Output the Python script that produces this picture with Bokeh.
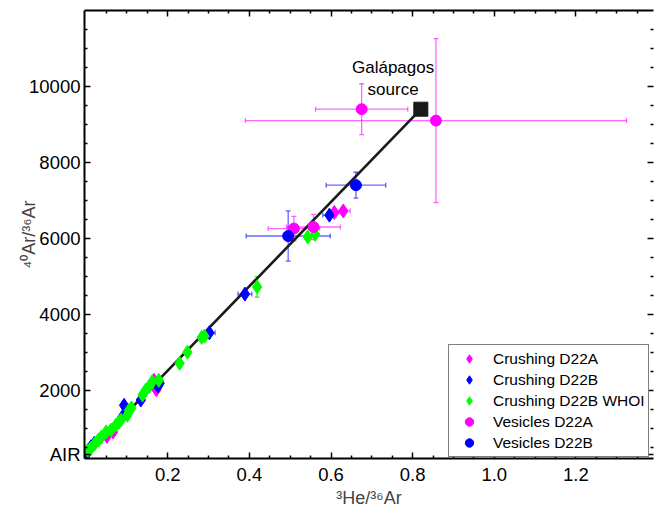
from bokeh.plotting import figure
from bokeh.models import (ColumnDataSource, Range1d, FixedTicker, LinearAxis, Whisker,
                          TeeHead, Legend, LegendItem, Label, CustomLabelingPolicy,
                          PrintfTickFormatter)
from bokeh.embed import file_html
from bokeh.resources import INLINE

# ---------------- data ----------------
air_x, air_y = 0.0, 295.5          # AIR end-member
gal_x, gal_y = 0.82, 9400.0        # Galápagos source end-member

# Crushing D22A (magenta diamonds)
cra_x = [0.051, 0.066, 0.166, 0.172, 0.608, 0.630]
cra_y = [780, 900, 2260, 2010, 6680, 6720]
cra_xerr = [0.003, 0.003, 0.004, 0.004, 0.012, 0.017]

# Crushing D22B (blue diamonds)
crb_x = [0.0, 0.012, 0.020, 0.089, 0.093, 0.134, 0.176, 0.180, 0.302, 0.389, 0.596]
crb_y = [300, 510, 600, 1300, 1600, 1740, 2110, 2180, 3510, 4530, 6610]
crb_xerr = [0.002, 0.002, 0.002, 0.004, 0.004, 0.005, 0.006, 0.006, 0.014, 0.017, 0.016]

# Crushing D22B WHOI (green diamonds)
who_x = [0.004, 0.012, 0.022, 0.030, 0.037, 0.049, 0.061, 0.073, 0.080, 0.085, 0.101,
         0.105, 0.111, 0.138, 0.146, 0.155, 0.162, 0.178, 0.229, 0.248, 0.283, 0.290,
         0.419, 0.543, 0.561]
who_y = [420, 470, 600, 690, 760, 900, 950, 1080, 1150, 1210, 1340,
         1470, 1530, 1870, 2000, 2100, 2220, 2260, 2710, 3000, 3390, 3420,
         4720, 6035, 6106]
who_yerr = [20, 20, 20, 20, 20, 20, 20, 25, 25, 25, 30,
            30, 30, 35, 35, 35, 35, 40, 45, 50, 55, 55,
            270, 80, 80]

# Vesicles D22A (magenta circles)
vea_x = [0.509, 0.557, 0.675, 0.857]
vea_y = [6256, 6298, 9400, 9100]
vea_xerr = [0.063, 0.066, 0.113, 0.467]
vea_yerr = [320, 330, 670, 2160]

# Vesicles D22B (blue circles)
veb_x = [0.495, 0.661]
veb_y = [6060, 7400]
veb_xerr = [0.103, 0.073]
veb_yerr = [660, 340]

x_ticks = [0.2, 0.4, 0.6, 0.8, 1.0, 1.2]
x_minor = [0.05, 0.1, 0.15, 0.25, 0.3, 0.35, 0.45, 0.5, 0.55, 0.65, 0.7, 0.75, 0.85, 0.9,
           0.95, 1.05, 1.1, 1.15, 1.25, 1.3, 1.35]
y_ticks = [295.5, 2000, 4000, 6000, 8000, 10000]
y_minor = [500, 1000, 1500, 2500, 3000, 3500, 4500, 5000, 5500, 6500, 7000, 7500,
           8500, 9000, 9500, 10500, 11000, 11500]

MAGENTA = "#ff00ff"
BLUE = "#0000ff"
GREEN = "#00ff00"
FONT = "Liberation Sans"

p = figure(width=659, height=516, output_backend="svg", toolbar_location=None,
           x_range=Range1d(-0.004, 1.39), y_range=Range1d(200, 12000),
           min_border_left=84, min_border_right=0, min_border_top=10, min_border_bottom=58,
           background_fill_color="white", border_fill_color="white")
p.outline_line_color = None
p.xgrid.visible = False
p.ygrid.visible = False

xt = FixedTicker(ticks=x_ticks, minor_ticks=x_minor)
yt = FixedTicker(ticks=y_ticks, minor_ticks=y_minor)

hide_all = CustomLabelingPolicy(code="for (const i of indices) { indices.unset(i) }\nreturn indices")


def style_axis(ax, show_labels=True):
    ax.axis_line_width = 2
    ax.axis_line_color = "black"
    ax.major_tick_in = 6
    ax.major_tick_out = 0
    ax.minor_tick_in = 3
    ax.minor_tick_out = 0
    ax.major_tick_line_width = 1.5
    ax.minor_tick_line_width = 1.5
    ax.major_tick_line_color = "black"
    ax.minor_tick_line_color = "black"
    ax.major_label_text_font = FONT
    ax.major_label_text_color = "black"
    if show_labels:
        ax.major_label_text_font_size = "18.5px"
    else:
        ax.major_label_text_font_size = "1px"
        ax.major_label_standoff = 0
        ax.major_label_policy = hide_all


xa = p.xaxis[0]
xa.ticker = xt
xa.formatter = PrintfTickFormatter(format="%.1f")
style_axis(xa)
xa.major_label_standoff = 9
xa.axis_label = "³He/³⁶Ar"
xa.axis_label_text_font = FONT
xa.axis_label_text_font_size = "18px"
xa.axis_label_text_font_style = "normal"
xa.axis_label_standoff = 4

ya = p.yaxis[0]
ya.ticker = yt
style_axis(ya)
ya.major_label_standoff = 4
ya.major_label_overrides = {295.5: "AIR"}
ya.axis_label = "⁴⁰Ar/³⁶Ar"
ya.axis_label_text_font = FONT
ya.axis_label_text_font_size = "18px"
ya.axis_label_text_font_style = "normal"
ya.axis_label_standoff = -13

top = LinearAxis(ticker=xt)
style_axis(top, show_labels=False)
p.add_layout(top, "above")

right = LinearAxis(ticker=yt)
style_axis(right, show_labels=False)
right.axis_line_color = None
p.add_layout(right, "right")

# ---------------- sources ----------------
s_cra = ColumnDataSource(dict(x=cra_x, y=cra_y,
                              xl=[a - e for a, e in zip(cra_x, cra_xerr)],
                              xu=[a + e for a, e in zip(cra_x, cra_xerr)]))
s_crb = ColumnDataSource(dict(x=crb_x, y=crb_y,
                              xl=[a - e for a, e in zip(crb_x, crb_xerr)],
                              xu=[a + e for a, e in zip(crb_x, crb_xerr)]))
s_who = ColumnDataSource(dict(x=who_x, y=who_y,
                              yl=[a - e for a, e in zip(who_y, who_yerr)],
                              yu=[a + e for a, e in zip(who_y, who_yerr)]))
s_vea = ColumnDataSource(dict(x=vea_x, y=vea_y,
                              xl=[a - e for a, e in zip(vea_x, vea_xerr)],
                              xu=[a + e for a, e in zip(vea_x, vea_xerr)],
                              yl=[a - e for a, e in zip(vea_y, vea_yerr)],
                              yu=[a + e for a, e in zip(vea_y, vea_yerr)]))
s_veb = ColumnDataSource(dict(x=veb_x, y=veb_y,
                              xl=[a - e for a, e in zip(veb_x, veb_xerr)],
                              xu=[a + e for a, e in zip(veb_x, veb_xerr)],
                              yl=[a - e for a, e in zip(veb_y, veb_yerr)],
                              yu=[a + e for a, e in zip(veb_y, veb_yerr)]))


def whisker(src, color, dim, alpha=0.6):
    if dim == "width":
        base, lo, up = "y", "xl", "xu"
    else:
        base, lo, up = "x", "yl", "yu"
    w = Whisker(source=src, base=base, lower=lo, upper=up, dimension=dim,
                line_color=color, line_alpha=alpha, line_width=1.3,
                upper_head=TeeHead(size=5, line_color=color, line_alpha=alpha, line_width=1.3),
                lower_head=TeeHead(size=5, line_color=color, line_alpha=alpha, line_width=1.3))
    p.add_layout(w)


whisker(s_vea, MAGENTA, "width")
whisker(s_vea, MAGENTA, "height")
whisker(s_veb, BLUE, "width")
whisker(s_veb, BLUE, "height")
whisker(s_cra, MAGENTA, "width")
whisker(s_crb, BLUE, "width")
whisker(s_who, GREEN, "height", alpha=0.9)

# mixing line AIR -> Galápagos source
p.line([air_x, gal_x], [air_y, gal_y], line_color="#1a1a1a", line_width=2.6)

r_cra = p.scatter("x", "y", source=s_cra, marker="diamond", size=14,
                  fill_color=MAGENTA, line_color=MAGENTA)
r_crb = p.scatter("x", "y", source=s_crb, marker="diamond", size=14,
                  fill_color=BLUE, line_color=BLUE)
r_who = p.scatter("x", "y", source=s_who, marker="diamond", size=14,
                  fill_color=GREEN, line_color=GREEN)
r_vea = p.scatter("x", "y", source=s_vea, marker="circle", size=11,
                  fill_color=MAGENTA, line_color=MAGENTA)
r_veb = p.scatter("x", "y", source=s_veb, marker="circle", size=11,
                  fill_color=BLUE, line_color=BLUE)

p.scatter([gal_x], [gal_y], marker="square", size=14, fill_color="#1a1a1a", line_color="#1a1a1a")

p.add_layout(Label(x=gal_x - 0.068, y=gal_y + 260, text="Galápagos\nsource",
                   text_align="center", text_baseline="bottom",
                   text_font=FONT, text_font_size="17px", text_color="black",
                   text_line_height=1.2))

legend = Legend(items=[
    LegendItem(label="Crushing D22A", renderers=[r_cra]),
    LegendItem(label="Crushing D22B", renderers=[r_crb]),
    LegendItem(label="Crushing D22B WHOI", renderers=[r_who]),
    LegendItem(label="Vesicles D22A", renderers=[r_vea]),
    LegendItem(label="Vesicles D22B", renderers=[r_veb]),
], location=(364, 1), orientation="vertical",
    label_text_font=FONT, label_text_font_size="15.5px", label_text_color="black",
    glyph_width=34, glyph_height=21, label_height=21, label_standoff=7,
    spacing=0, padding=3, margin=0,
    border_line_color="black", border_line_width=1.5,
    background_fill_color="white", background_fill_alpha=1.0)
p.add_layout(legend, "center")

open("out.html", "w").write(file_html(p, INLINE))
